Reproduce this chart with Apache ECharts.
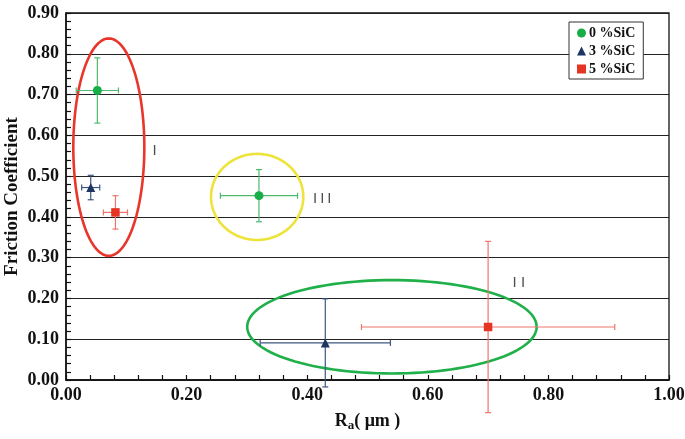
<!DOCTYPE html>
<html>
<head>
<meta charset="utf-8">
<script src="https://cdn.jsdelivr.net/npm/echarts@6/dist/echarts.min.js"></script>
<style>
html,body{margin:0;padding:0;background:#fff;}
#chart{width:685px;height:439px;}
</style>
</head>
<body>
<div id="chart"></div>
<script>
// ---- data ----
const seriesNames = ['0 %SiC', '3 %SiC', '5 %SiC'];
const ra0 = [0.052, 0.320];
const fc0 = [0.71, 0.452];
const raErr0 = [0.035, 0.064];
const fcErr0 = [0.080, 0.064];

const ra3 = [0.041, 0.430];
const fc3 = [0.472, 0.091];
const raErr3 = [0.015, 0.108];
const fcErr3 = [0.030, 0.108];

const ra5 = [0.082, 0.700];
const fc5 = [0.411, 0.130];
const raErr5 = [0.020, 0.210];
const fcErr5 = [0.041, 0.210];

// group annotations (ellipses in data units)
const groupLabels = ['I', 'I I', 'I\u2009I\u2009I'];
const labelRa = [0.147, 0.751, 0.425];
const labelFc = [0.563, 0.238, 0.444];
const ellipseCx = [0.071, 0.5405, 0.317];
const ellipseCy = [0.571, 0.1305, 0.449];
const ellipseRx = [0.0589, 0.240, 0.0765];
const ellipseRy = [0.2666, 0.1145, 0.1055];

const xTicks = ['0.00', '0.20', '0.40', '0.60', '0.80', '1.00'];
const yTicks = ['0.00', '0.10', '0.20', '0.30', '0.40', '0.50', '0.60', '0.70', '0.80', '0.90'];

// ---- styles ----
const markerColors = ['#17ad47', '#1c3562', '#e53424'];
const errColors = ['#4dba6c', '#3e5782', '#ef756b'];
const ellipseColors = ['#e8362b', '#1fb04a', '#eee33a'];
const serif = "'Liberation Serif','Times New Roman',serif";

function pts(xs, ys) { return xs.map((x, i) => [x, ys[i]]); }
function errData(xs, ys, xe, ye) { return xs.map((x, i) => [x, ys[i], xe[i], ye[i]]); }

function errRender(color) {
  return function (params, api) {
    const x = api.value(0), y = api.value(1), xe = api.value(2), ye = api.value(3);
    const c = api.coord([x, y]);
    const l = api.coord([x - xe, y]), r = api.coord([x + xe, y]);
    const t = api.coord([x, y + ye]), b = api.coord([x, y - ye]);
    const cap = 3;
    const st = { stroke: color, lineWidth: 1.2 };
    const ln = (x1, y1, x2, y2) => ({ type: 'line', shape: { x1, y1, x2, y2 }, style: st });
    return {
      type: 'group',
      children: [
        ln(l[0], c[1], r[0], c[1]),
        ln(l[0], c[1] - cap, l[0], c[1] + cap),
        ln(r[0], c[1] - cap, r[0], c[1] + cap),
        ln(c[0], t[1], c[0], b[1]),
        ln(c[0] - cap, t[1], c[0] + cap, t[1]),
        ln(c[0] - cap, b[1], c[0] + cap, b[1])
      ]
    };
  };
}

const ellipseData = ellipseCx.map((cx, i) => [cx, ellipseCy[i], ellipseRx[i], ellipseRy[i], i]);
function ellipseRender(params, api) {
  const cx = api.value(0), cy = api.value(1), rx = api.value(2), ry = api.value(3), k = api.value(4);
  const c = api.coord([cx, cy]);
  const s = api.size([rx, ry]);
  const points = [];
  const n = 120;
  for (let j = 0; j <= n; j++) {
    const a = (j / n) * Math.PI * 2;
    points.push([c[0] + s[0] * Math.cos(a), c[1] + s[1] * Math.sin(a)]);
  }
  return {
    type: 'polyline',
    shape: { points },
    style: { stroke: ellipseColors[k], lineWidth: 2.6, fill: null }
  };
}

const chart = echarts.init(document.getElementById('chart'), null, { renderer: 'canvas' });
const option = {
  animation: false,
  backgroundColor: '#fff',
  grid: { left: 66, right: 16, top: 13, bottom: 59, show: true, borderColor: '#111', borderWidth: 1.3,
    backgroundColor: 'transparent', containLabel: false, outerBoundsMode: 'none' },
  legend: {
    data: seriesNames.map((n, i) => ({ name: n, icon: ['circle', 'triangle', 'rect'][i] })),
    orient: 'vertical',
    left: 569, top: 22,
    itemWidth: 9, itemHeight: 9, itemGap: 4,
    padding: [4, 8, 3, 8],
    backgroundColor: '#fff',
    borderColor: '#333', borderWidth: 1,
    textStyle: { fontFamily: serif, fontWeight: 'bold', fontSize: 14, color: '#111', lineHeight: 12, padding: [0, 0, 0, -2] }
  },
  xAxis: {
    type: 'value', min: 0, max: 1, interval: 0.2,
    name: '{r|R}{s|a}{r|( μm )}',
    nameLocation: 'middle', nameGap: 31, nameMoveOverlap: false,
    nameTextStyle: {
      rich: {
        r: { fontFamily: serif, fontWeight: 'bold', fontSize: 18, color: '#111' },
        s: { fontFamily: serif, fontWeight: 'bold', fontSize: 13, color: '#111', padding: [8, 0, 0, 0] }
      }
    },
    axisLine: { lineStyle: { color: '#111', width: 1.5 } },
    axisTick: { inside: true, length: 5, lineStyle: { color: '#111', width: 1.2 } },
    minorTick: { show: true, splitNumber: 5, length: 5, lineStyle: { color: '#111', width: 1.2 } },
    splitLine: { show: false },
    axisLabel: { fontFamily: serif, fontWeight: 'bold', fontSize: 18, color: '#111', margin: 6,
      formatter: v => xTicks[Math.round(v / 0.2)] }
  },
  yAxis: {
    type: 'value', min: 0, max: 0.9, interval: 0.1,
    name: 'Friction Coefficient',
    nameLocation: 'middle', nameGap: 44, nameMoveOverlap: false,
    nameTextStyle: { fontFamily: serif, fontWeight: 'bold', fontSize: 19, color: '#111' },
    axisLine: { show: true, lineStyle: { color: '#111', width: 1.5 } },
    axisTick: { show: true, inside: true, length: 5, lineStyle: { color: '#111', width: 1.2 } },
    minorTick: { show: true, splitNumber: 5, length: 5, lineStyle: { color: '#111', width: 1.2 } },
    splitLine: { show: true, lineStyle: { color: '#222', width: 1.1 } },
    axisLabel: { fontFamily: serif, fontWeight: 'bold', fontSize: 18, color: '#111', margin: 7,
      formatter: v => yTicks[Math.round(v / 0.1)] }
  },
  series: [
    {
      type: 'custom', name: 'ellipses', data: ellipseData, renderItem: ellipseRender,
      z: 3, silent: true
    },
    {
      type: 'scatter', name: 'labels', symbolSize: 0, z: 3,
      data: groupLabels.map((t, i) => ({ value: [labelRa[i], labelFc[i]], label: { formatter: t } })),
      label: { show: true, position: 'inside', fontFamily: "'Liberation Sans',Arial,sans-serif", fontSize: 15, color: '#222' }
    },
    { type: 'custom', name: 'err0', data: errData(ra0, fc0, raErr0, fcErr0), renderItem: errRender(errColors[0]), z: 4, clip: false },
    { type: 'custom', name: 'err3', data: errData(ra3, fc3, raErr3, fcErr3), renderItem: errRender(errColors[1]), z: 4, clip: false },
    { type: 'custom', name: 'err5', data: errData(ra5, fc5, raErr5, fcErr5), renderItem: errRender(errColors[2]), z: 4, clip: false },
    { type: 'scatter', name: seriesNames[0], data: pts(ra0, fc0), symbol: 'circle', symbolSize: 9, itemStyle: { color: markerColors[0], opacity: 1 }, z: 5 },
    { type: 'scatter', name: seriesNames[1], data: pts(ra3, fc3), symbol: 'triangle', symbolSize: 9, itemStyle: { color: markerColors[1], opacity: 1 }, z: 5 },
    { type: 'scatter', name: seriesNames[2], data: pts(ra5, fc5), symbol: 'rect', symbolSize: 8.5, itemStyle: { color: markerColors[2], opacity: 1 }, z: 5 }
  ]
};
chart.setOption(option);
</script>
</body>
</html>
